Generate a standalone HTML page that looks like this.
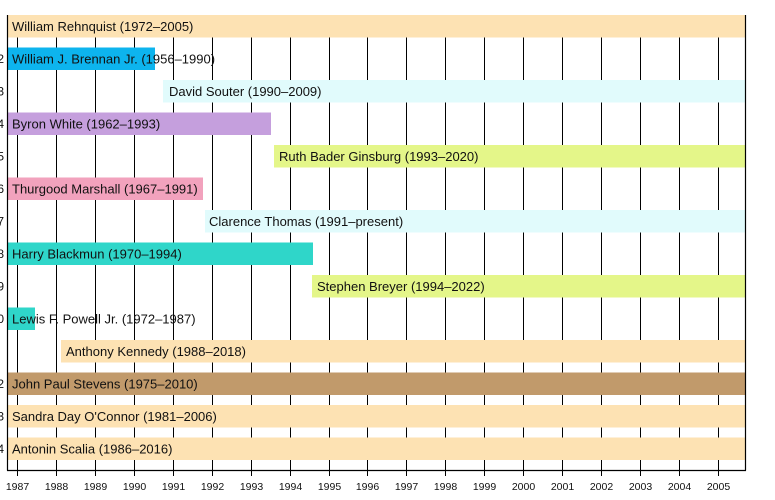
<!DOCTYPE html>
<html><head><meta charset="utf-8"><style>
html,body{margin:0;padding:0;background:#fff;}
svg{display:block;font-family:"Liberation Sans",Arial,sans-serif;}
</style></head><body>
<svg width="775" height="500" viewBox="0 0 775 500" xmlns="http://www.w3.org/2000/svg">
<g stroke="#000" stroke-width="1">
<line x1="17.5" y1="15" x2="17.5" y2="476"/>
<line x1="56.5" y1="15" x2="56.5" y2="476"/>
<line x1="95.5" y1="15" x2="95.5" y2="476"/>
<line x1="134.5" y1="15" x2="134.5" y2="476"/>
<line x1="173.5" y1="15" x2="173.5" y2="476"/>
<line x1="212.5" y1="15" x2="212.5" y2="476"/>
<line x1="251.5" y1="15" x2="251.5" y2="476"/>
<line x1="290.5" y1="15" x2="290.5" y2="476"/>
<line x1="329.5" y1="15" x2="329.5" y2="476"/>
<line x1="367.5" y1="15" x2="367.5" y2="476"/>
<line x1="406.5" y1="15" x2="406.5" y2="476"/>
<line x1="445.5" y1="15" x2="445.5" y2="476"/>
<line x1="484.5" y1="15" x2="484.5" y2="476"/>
<line x1="523.5" y1="15" x2="523.5" y2="476"/>
<line x1="562.5" y1="15" x2="562.5" y2="476"/>
<line x1="601.5" y1="15" x2="601.5" y2="476"/>
<line x1="640.5" y1="15" x2="640.5" y2="476"/>
<line x1="679.5" y1="15" x2="679.5" y2="476"/>
<line x1="718.5" y1="15" x2="718.5" y2="476"/>
</g>
<g>
<rect x="7" y="15" width="738" height="22.5" fill="#fde2b3"/>
<rect x="7" y="47.5" width="148" height="22.5" fill="#0db4ee"/>
<rect x="163" y="80" width="582" height="22.5" fill="#e1fbfc"/>
<rect x="7" y="112.5" width="264" height="22.5" fill="#c59fdd"/>
<rect x="274" y="145" width="471" height="22.5" fill="#e4f689"/>
<rect x="7" y="177.5" width="196" height="22.5" fill="#f2a2bd"/>
<rect x="205" y="210" width="540" height="22.5" fill="#e1fbfc"/>
<rect x="7" y="242.5" width="306" height="22.5" fill="#2fd6c9"/>
<rect x="312" y="275" width="433" height="22.5" fill="#e4f689"/>
<rect x="7" y="307.5" width="28" height="22.5" fill="#2fd6c9"/>
<rect x="61" y="340" width="684" height="22.5" fill="#fde2b3"/>
<rect x="7" y="372.5" width="738" height="22.5" fill="#c19a6b"/>
<rect x="7" y="405" width="738" height="22.5" fill="#fde2b3"/>
<rect x="7" y="437.5" width="738" height="22.5" fill="#fde2b3"/>
</g>
<g stroke="#000" stroke-width="1.2" fill="none">
<line x1="7.5" y1="15" x2="7.5" y2="470.5"/>
<line x1="745.5" y1="15" x2="745.5" y2="470.5"/>
<line x1="7" y1="470.5" x2="746" y2="470.5"/>
</g>
<g font-size="13" fill="#111">
<text x="12" y="31">William Rehnquist (1972–2005)</text>
<text x="12" y="63.5">William J. Brennan Jr. (1956–1990)</text>
<text x="169" y="96">David Souter (1990–2009)</text>
<text x="12" y="128.5">Byron White (1962–1993)</text>
<text x="279" y="161">Ruth Bader Ginsburg (1993–2020)</text>
<text x="12" y="193.5">Thurgood Marshall (1967–1991)</text>
<text x="209" y="226">Clarence Thomas (1991–present)</text>
<text x="12" y="258.5">Harry Blackmun (1970–1994)</text>
<text x="317" y="291">Stephen Breyer (1994–2022)</text>
<text x="12" y="323.5">Lewis F. Powell Jr. (1972–1987)</text>
<text x="66" y="356">Anthony Kennedy (1988–2018)</text>
<text x="12" y="388.5">John Paul Stevens (1975–2010)</text>
<text x="12" y="421">Sandra Day O'Connor (1981–2006)</text>
<text x="12" y="453.5">Antonin Scalia (1986–2016)</text>
</g>
<g font-size="12" fill="#111" text-anchor="end">
<text x="4" y="63">2</text><text x="4" y="95.5">3</text><text x="4" y="128">4</text>
<text x="4" y="160.5">5</text><text x="4" y="193">6</text><text x="4" y="225.5">7</text>
<text x="4" y="258">8</text><text x="4" y="290.5">9</text><text x="4" y="323">0</text>
<text x="4" y="388">2</text><text x="4" y="420.5">3</text><text x="4" y="453">4</text>
</g>
<g font-size="10.5" fill="#111" text-anchor="middle">
<text x="17.5" y="490">1987</text><text x="56.5" y="490">1988</text><text x="95.5" y="490">1989</text>
<text x="134.5" y="490">1990</text><text x="173.5" y="490">1991</text><text x="212.5" y="490">1992</text>
<text x="251.5" y="490">1993</text><text x="290.5" y="490">1994</text><text x="329.5" y="490">1995</text>
<text x="367.5" y="490">1996</text><text x="406.5" y="490">1997</text><text x="445.5" y="490">1998</text>
<text x="484.5" y="490">1999</text><text x="523.5" y="490">2000</text><text x="562.5" y="490">2001</text>
<text x="601.5" y="490">2002</text><text x="640.5" y="490">2003</text><text x="679.5" y="490">2004</text>
<text x="718.5" y="490">2005</text>
</g>
</svg>
</body></html>
